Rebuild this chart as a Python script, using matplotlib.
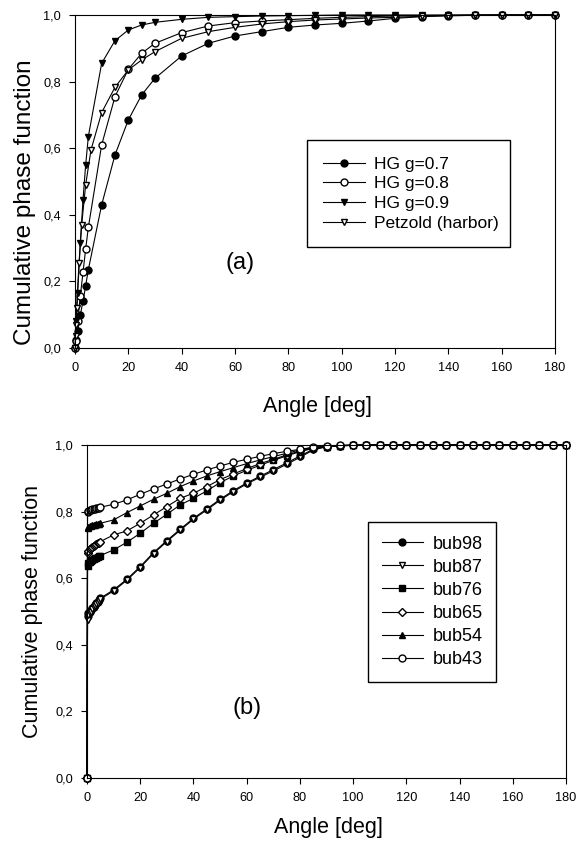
import numpy as np
import matplotlib
matplotlib.use("Agg")
import matplotlib.pyplot as plt
from matplotlib.ticker import FuncFormatter

plt.rcParams['font.family'] = ['Liberation Sans', 'DejaVu Sans']

# panel (a): HG phase functions and Petzold
hg_angle = [0, 0.5, 1, 2, 3, 4, 5, 10, 15, 20, 25, 30, 40, 50, 60, 70, 80,
            90, 100, 110, 120, 130, 140, 150, 160, 170, 180]
hg07 = [0, .025, .05, .10, .14, .187, .235, .43, .58, .685, .76, .81, .877,
        .915, .937, .95, .963, .97, .975, .982, .99, .995, .998, .999, 1, 1, 1]
hg08 = [0, .02, .08, .157, .227, .297, .362, .61, .755, .837, .885, .915,
        .947, .967, .977, .982, .986, .99, .993, .995, .997, .998, .999, 1, 1, 1, 1]
hg09 = [0, .08, .165, .315, .445, .55, .635, .855, .923, .955, .97, .978,
        .987, .993, .995, .997, .998, .999, 1, 1, 1, 1, 1, 1, 1, 1, 1]
petz_angle = [0, 0.2, 0.4, 0.6, 1.5, 2.5, 4, 6, 10, 15, 20, 25, 30, 40, 50,
              60, 70, 80, 90, 100, 110, 120, 130, 140, 150, 160, 170, 180]
petz = [0, .035, .07, .12, .255, .37, .49, .595, .707, .783, .835, .865, .89,
        .93, .95, .963, .973, .98, .985, .988, .991, .993, .996, .998, .999, 1, 1, 1]

# panel (b): bubble populations
bub_angle = [0, 0.2, 0.5, 1, 1.5, 2, 2.5, 3, 3.5, 4, 4.5, 5,
             10, 15, 20, 25, 30, 35, 40, 45, 50, 55, 60, 65, 70, 75, 80, 85,
             90, 95, 100, 105, 110, 115, 120, 125, 130, 135, 140, 145, 150,
             155, 160, 165, 170, 175, 180]
tail = [.995, .998, .999] + [1] * 16
bub98 = ([0, .485, .495, .5, .505, .51, .515, .52, .525, .53, .535, .54] +
         [.565, .597, .635, .677, .713, .747, .78, .808, .837, .863, .886,
          .906, .926, .946, .967, .987] + tail)
bub87 = ([0, .475, .488, .495, .5, .507, .513, .518, .522, .527, .532, .537] +
         [.562, .594, .632, .674, .71, .744, .777, .805, .834, .86, .883,
          .903, .922, .942, .963, .985] + tail)
bub76 = ([0, .636, .645, .65, .653, .656, .658, .66, .662, .664, .666, .668] +
         [.685, .708, .735, .765, .792, .82, .84, .862, .887, .907, .924,
          .939, .954, .967, .98, .99] + tail)
bub65 = ([0, .675, .683, .688, .691, .694, .697, .7, .702, .705, .707, .71] +
         [.73, .742, .765, .79, .815, .84, .855, .875, .896, .913, .929,
          .944, .957, .97, .982, .991] + tail)
bub54 = ([0, .752, .755, .757, .758, .759, .76, .761, .762, .763, .764, .765] +
         [.775, .797, .817, .837, .855, .875, .892, .907, .92, .932, .944,
          .955, .965, .975, .985, .993] + tail)
bub43 = ([0, .8, .803, .805, .806, .807, .808, .809, .81, .811, .812, .813] +
         [.822, .835, .852, .868, .883, .898, .912, .925, .937, .948, .957,
          .966, .974, .981, .987, .993] + [.997, .999] + [1] * 17)

W, H = 578, 841
comma = FuncFormatter(lambda v, p: f"{v:.1f}".replace('.', ','))


def style_axes(ax):
    ax.set_xlim(0, 180)
    ax.set_ylim(0, 1.0)
    ax.set_xticks(range(0, 181, 20))
    ax.set_yticks([0, 0.2, 0.4, 0.6, 0.8, 1.0])
    ax.yaxis.set_major_formatter(comma)
    ax.tick_params(direction='out', length=4, width=0.8, labelsize=9.2, pad=6)
    for s in ax.spines.values():
        s.set_linewidth(0.8)


def px_text(x, y, s, size, rot=0):
    # place text by pixel centre (from top-left)
    fig.text(x / W, 1 - y / H, s, fontsize=size, rotation=rot,
             ha='center', va='center')


fig = plt.figure(figsize=(5.78, 8.41), dpi=100)

lw = 0.8
ms = 5

ax1 = fig.add_axes([75 / W, 1 - 348 / H, 480 / W, 333 / H])
ax1.plot(hg_angle, hg07, '-o', color='k', lw=lw, ms=ms, mfc='k', label='HG g=0.7', clip_on=False)
ax1.plot(hg_angle, hg08, '-o', color='k', lw=lw, ms=ms, mfc='w', label='HG g=0.8', clip_on=False)
ax1.plot(hg_angle, hg09, '-v', color='k', lw=lw, ms=ms, mfc='k', label='HG g=0.9', clip_on=False)
ax1.plot(petz_angle, petz, '-v', color='k', lw=lw, ms=ms, mfc='w', label='Petzold (harbor)', clip_on=False)
style_axes(ax1)
ax1.text(0.344, 0.255, '(a)', transform=ax1.transAxes, fontsize=17, ha='center', va='center')
ax1.legend(loc='upper left', bbox_to_anchor=(307 / W, 1 - 248 / H, 203 / W, 108 / H),
           bbox_transform=fig.transFigure, mode='expand', fontsize=12.5,
           frameon=True, fancybox=False, edgecolor='k', framealpha=1,
           handlelength=2.4, labelspacing=0.26, borderaxespad=0, borderpad=0.95,
           handletextpad=0.5)
px_text(25, 202, 'Cumulative phase function', 17.5, rot=90)
px_text(317, 406, 'Angle [deg]', 15.5)

ax2 = fig.add_axes([87 / W, 1 - 778 / H, 479 / W, 333 / H])
ax2.plot(bub_angle, bub98, '-o', color='k', lw=lw, ms=ms, mfc='k', label='bub98', clip_on=False)
ax2.plot(bub_angle, bub87, '-v', color='k', lw=lw, ms=ms, mfc='w', label='bub87', clip_on=False)
ax2.plot(bub_angle, bub76, '-s', color='k', lw=lw, ms=ms - 0.5, mfc='k', label='bub76', clip_on=False)
ax2.plot(bub_angle, bub65, '-D', color='k', lw=lw, ms=ms - 1, mfc='w', label='bub65', clip_on=False)
ax2.plot(bub_angle, bub54, '-^', color='k', lw=lw, ms=ms, mfc='k', label='bub54', clip_on=False)
ax2.plot(bub_angle, bub43, '-o', color='k', lw=lw, ms=ms, mfc='w', label='bub43', clip_on=False)
style_axes(ax2)
ax2.text(0.335, 0.21, '(b)', transform=ax2.transAxes, fontsize=17, ha='center', va='center')
ax2.legend(loc='upper left', bbox_to_anchor=(368 / W, 1 - 677 / H, 128 / W, 155 / H),
           bbox_transform=fig.transFigure, mode='expand', fontsize=13,
           frameon=True, fancybox=False, edgecolor='k', framealpha=1,
           handlelength=2.3, labelspacing=0.34, borderaxespad=0, borderpad=0.75,
           handletextpad=0.55)
px_text(33, 612, 'Cumulative phase function', 15.5, rot=90)
px_text(328, 827, 'Angle [deg]', 15.5)

fig.savefig('out.png', dpi=100)
